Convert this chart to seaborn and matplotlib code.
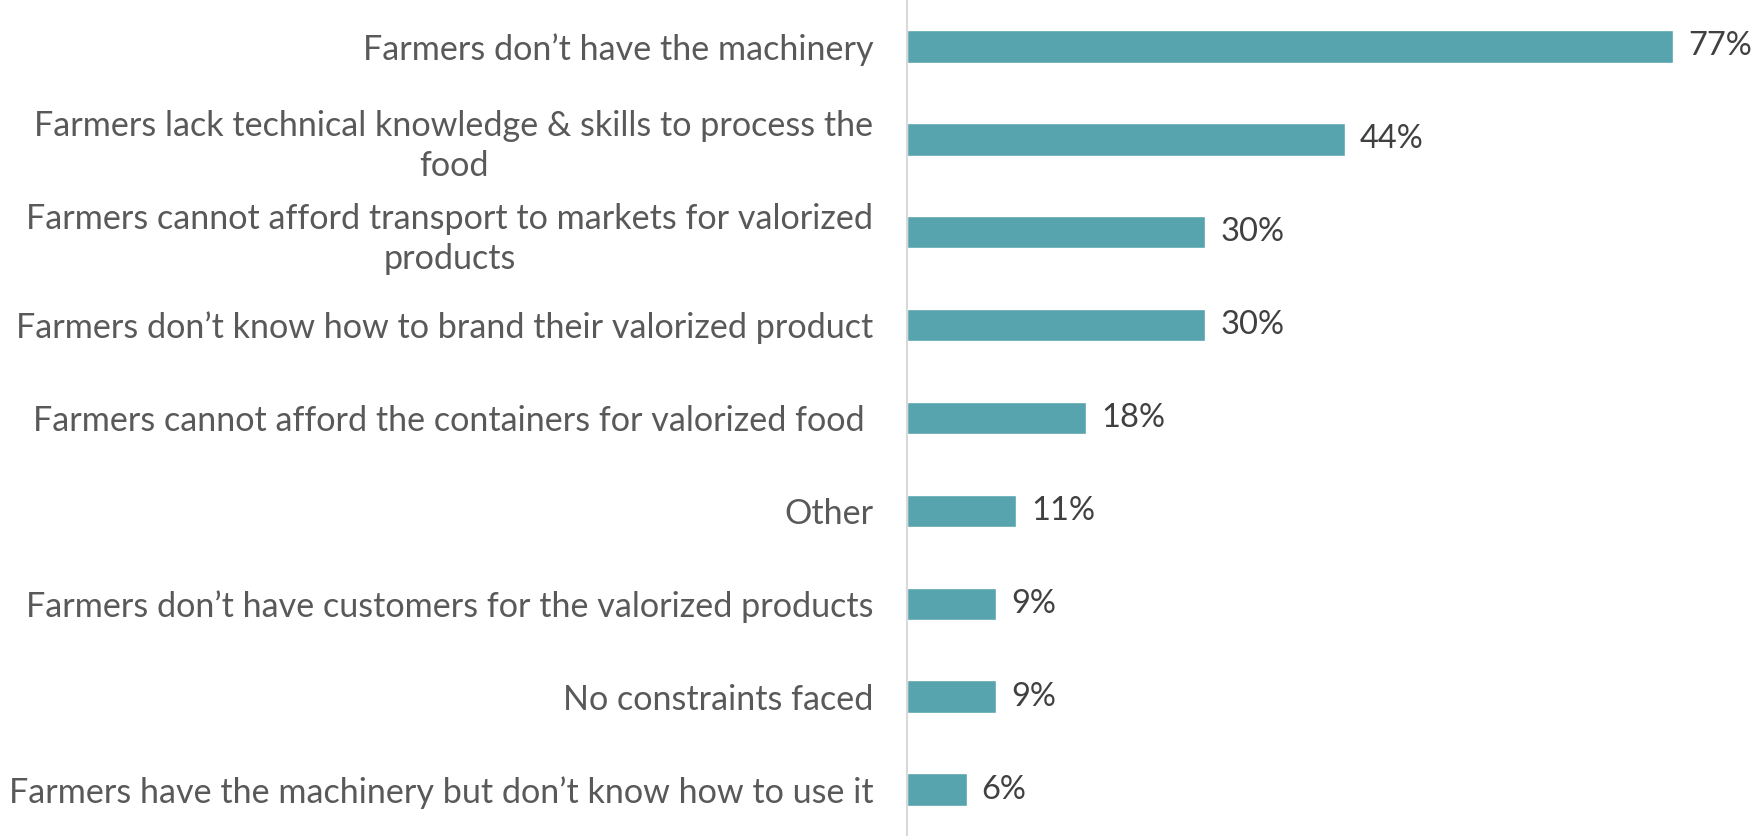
import pandas as pd
import matplotlib
matplotlib.use('Agg')
import matplotlib.pyplot as plt
import seaborn as sns

# Data
categories = [
    'Farmers don\u2019t have the machinery',
    'Farmers lack technical knowledge & skills to process the\nfood',
    'Farmers cannot afford transport to markets for valorized\nproducts',
    'Farmers don\u2019t know how to brand their valorized product',
    'Farmers cannot afford the containers for valorized food ',
    'Other',
    'Farmers don\u2019t have customers for the valorized products',
    'No constraints faced',
    'Farmers have the machinery but don\u2019t know how to use it',
]
percentages = [77, 44, 30, 30, 18, 11, 9, 9, 6]

BAR_COLOR = '#57a3ae'
LABEL_COLOR = '#595959'
VALUE_COLOR = '#404040'

sns.set_style('white')
plt.rcParams['font.family'] = ['Lato', 'DejaVu Sans']

df = pd.DataFrame({'Category': categories, 'Percent': percentages})

fig = plt.figure(figsize=(17.54, 8.36), dpi=100)
ax = fig.add_axes([0.517, 0.0, 0.483, 1.0])

sns.barplot(data=df, x='Percent', y='Category', color=BAR_COLOR,
            width=0.35, saturation=1, ax=ax)

ax.set_xlim(0, 85.1)
ax.set_ylim(len(categories) - 0.5, -0.5)

for i, v in enumerate(percentages):
    ax.text(v + 1.5, i, f'{v}%', va='center', ha='left',
            fontsize=23.5, color=VALUE_COLOR)

ax.set_xlabel('')
ax.set_ylabel('')
ax.set_xticks([])
ax.tick_params(axis='y', length=0, pad=24, labelsize=24.6, labelcolor=LABEL_COLOR)
for lbl in ax.get_yticklabels():
    lbl.set_multialignment('center')
    lbl.set_linespacing(1.3)

for side in ['top', 'right', 'bottom']:
    ax.spines[side].set_visible(False)
ax.spines['left'].set_color('#d9d9d9')
ax.spines['left'].set_linewidth(1.5)

fig.savefig('out.png', dpi=100)
